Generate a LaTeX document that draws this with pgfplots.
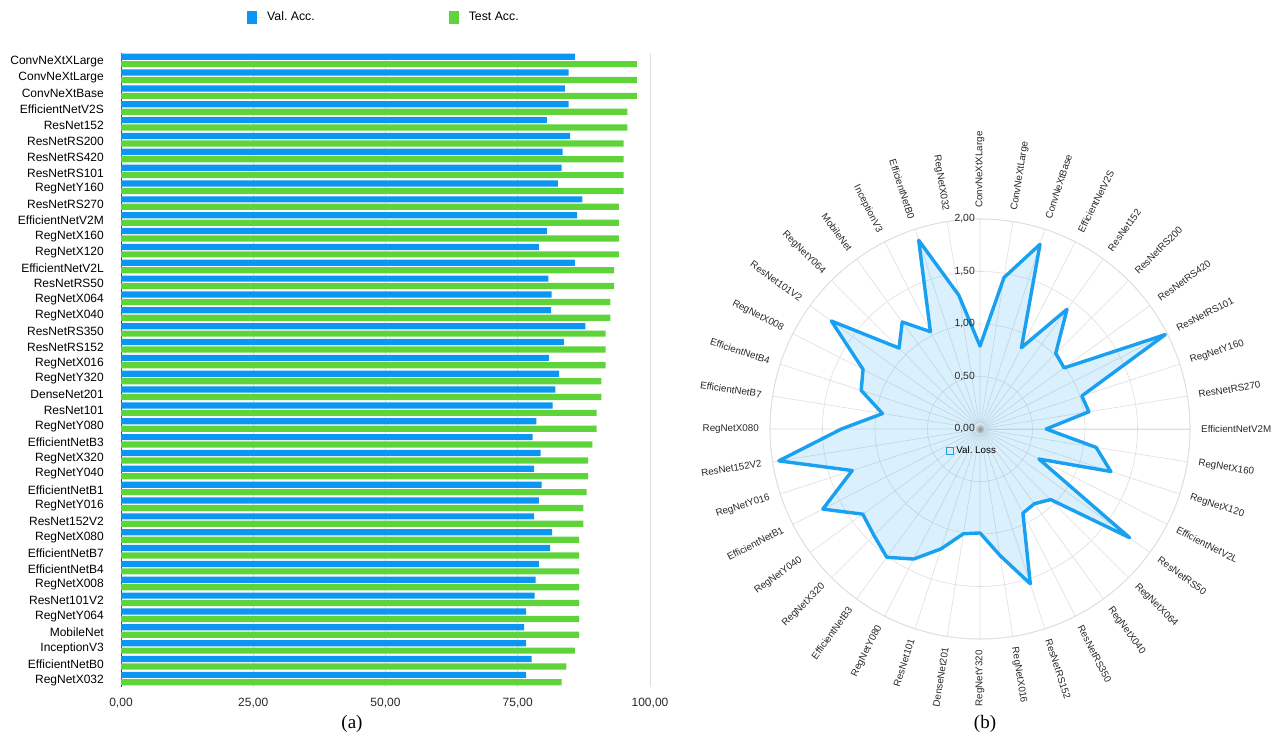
\documentclass[border=0pt]{standalone}
\usepackage{pgfplots}
\pgfplotsset{compat=1.18}
\usepgfplotslibrary{polar}
\usepackage{fontspec}
\setmainfont{Liberation Sans}
\newfontfamily\capfont{Liberation Serif}
\definecolor{barblue}{RGB}{10,150,242}
\definecolor{bargreen}{RGB}{94,212,58}
\definecolor{radarblue}{RGB}{26,160,240}
\definecolor{gridgray}{RGB}{222,222,222}
\definecolor{ticktext}{RGB}{40,40,40}
\begin{document}
\begin{tikzpicture}
\path[use as bounding box] (0,0) rectangle (1277pt,-743pt);
% ---------------- (a) bar chart ----------------
\begin{axis}[
  name=bars,
  at={(121pt,-686.5pt)}, anchor=south west,
  scale only axis, width=529pt, height=634pt,
  xbar, bar width=0.39,
  xmin=0, xmax=100,
  ymin=-0.5, ymax=39.5, y dir=reverse,
  ytick={0,...,39},
  yticklabels={ConvNeXtXLarge,ConvNeXtLarge,ConvNeXtBase,EfficientNetV2S,ResNet152,ResNetRS200,ResNetRS420,ResNetRS101,RegNetY160,ResNetRS270,EfficientNetV2M,RegNetX160,RegNetX120,EfficientNetV2L,ResNetRS50,RegNetX064,RegNetX040,ResNetRS350,ResNetRS152,RegNetX016,RegNetY320,DenseNet201,ResNet101,RegNetY080,EfficientNetB3,RegNetX320,RegNetY040,EfficientNetB1,RegNetY016,ResNet152V2,RegNetX080,EfficientNetB7,EfficientNetB4,RegNetX008,ResNet101V2,RegNetY064,MobileNet,InceptionV3,EfficientNetB0,RegNetX032},
  xtick={25,50,75,100},
  xticklabels={{25,00},{50,00},{75,00},{100,00}},
  extra x ticks={0}, extra x tick labels={0{,}00},
  extra x tick style={grid style={black!75, line width=0.9pt}},
  xmajorgrids, grid style={gridgray, line width=0.6pt},
  major tick length=0,
  axis line style={draw=none},
  yticklabel style={font=\fontsize{12}{14}\selectfont, inner sep=0pt, xshift=-17pt, yshift=-1.5pt, text=black},
  xticklabel style={font=\fontsize{12}{14}\selectfont, yshift=-8pt, text=ticktext},
  legend columns=2,
  legend style={at={(0.497,1.056)}, anchor=center, draw=none, fill=none,
    font=\fontsize{12.3}{14}\selectfont,
    /tikz/every even column/.append style={column sep=132pt}},
  legend image code/.code={\fill[#1, draw=none] (0pt,-6.5pt) rectangle (10pt,6.5pt); \path (0pt,0pt) -- (18pt,0pt);},
]
\addplot[fill=barblue, draw=none, bar shift=-0.235] coordinates {
(85.8,0) (84.6,1) (83.9,2) (84.6,3) (80.5,4) (84.9,5) (83.5,6) (83.3,7) (82.6,8) (87.2,9)
(86.2,10) (80.5,11) (79.0,12) (85.8,13) (80.8,14) (81.4,15) (81.3,16) (87.8,17) (83.7,18) (80.9,19)
(82.8,20) (82.1,21) (81.6,22) (78.5,23) (77.8,24) (79.3,25) (78.1,26) (79.5,27) (79.0,28) (78.1,29)
(81.5,30) (81.1,31) (79.0,32) (78.4,33) (78.2,34) (76.6,35) (76.2,36) (76.6,37) (77.6,38) (76.6,39)};
\addplot[fill=bargreen, draw=none, bar shift=0.235] coordinates {
(97.5,0) (97.5,1) (97.5,2) (95.7,3) (95.7,4) (95.0,5) (95.0,6) (95.0,7) (95.0,8) (94.1,9)
(94.1,10) (94.1,11) (94.1,12) (93.2,13) (93.2,14) (92.5,15) (92.5,16) (91.6,17) (91.6,18) (91.6,19)
(90.8,20) (90.8,21) (89.9,22) (89.9,23) (89.1,24) (88.3,25) (88.3,26) (88.0,27) (87.4,28) (87.4,29)
(86.6,30) (86.6,31) (86.6,32) (86.6,33) (86.6,34) (86.6,35) (86.6,36) (85.8,37) (84.2,38) (83.3,39)};
\legend{Val.\ Acc., Test Acc.}
\end{axis}
% ---------------- (b) radar chart ----------------
\begin{polaraxis}[
  name=radar,
  at={(980pt,-429pt)}, anchor=center,
  scale only axis, width=420pt, height=420pt,
  xtick={0,9,...,351}, xticklabels={},
  ymin=0, ymax=2, ytick={0.5,1,1.5,2}, yticklabels={},
  grid=major, major grid style={gridgray, line width=0.6pt},
  axis line style={gridgray, line width=0.8pt},
  major tick length=0,
  legend style={at={(0.481,0.448)}, anchor=center, draw=none, fill=none,
    font=\fontsize{9.8}{12}\selectfont},
  legend image code/.code={\draw[radarblue, line width=1.2pt, fill=radarblue!15] (0pt,-3.5pt) rectangle (7pt,3.5pt);},
]
\addplot[draw=radarblue, line width=3.4pt, line join=round, fill=radarblue, fill opacity=0.16] coordinates {
(90,0.79) (81,1.46) (72,1.85) (63,0.87) (54,1.41) (45,1.02) (36,0.99) (27,1.98) (18,1.02) (9,1.05)
(0,0.63) (-9,1.12) (-18,1.31) (-27,0.63) (-36,1.76) (-45,0.95) (-54,0.88) (-63,0.90) (-72,1.55) (-81,1.22)
(-90,0.99) (-99,1.01) (-108,1.20) (-117,1.39) (-126,1.51) (-135,1.43) (-144,1.38) (-153,1.68) (-162,1.28) (-171,1.94)
(-180,1.32) (-189,0.94) (-198,1.19) (-207,1.25) (-216,1.75) (-225,1.09) (-234,1.26) (-243,1.04) (-252,1.89) (-261,1.29)} -- cycle;
\addlegendentry{Val.\ Loss}
\coordinate (C) at (axis cs:0,0);
\end{polaraxis}
\shade[inner color=black!45, outer color=radarblue!16] (C) circle (6pt);
\foreach \v/\t in {0/{0,00},0.5/{0,50},1/{1,00},1.5/{1,50},2/{2,00}} {
  \node[anchor=east, inner sep=0pt, font=\fontsize{10.4}{12}\selectfont, text=ticktext]
    at ([shift={(C)}]{-5pt},{\v*105pt}) {\t};
}
\foreach \n [count=\i from 0] in {ConvNeXtXLarge,ConvNeXtLarge,ConvNeXtBase,EfficientNetV2S,ResNet152,ResNetRS200,ResNetRS420,ResNetRS101,RegNetY160,ResNetRS270,EfficientNetV2M,RegNetX160,RegNetX120,EfficientNetV2L,ResNetRS50,RegNetX064,RegNetX040,ResNetRS350,ResNetRS152,RegNetX016,RegNetY320,DenseNet201,ResNet101,RegNetY080,EfficientNetB3,RegNetX320,RegNetY040,EfficientNetB1,RegNetY016,ResNet152V2,RegNetX080,EfficientNetB7,EfficientNetB4,RegNetX008,ResNet101V2,RegNetY064,MobileNet,InceptionV3,EfficientNetB0,RegNetX032} {
  \pgfmathsetmacro\ang{90-9*\i}
  \ifnum\i<20
    \node[anchor=west, rotate=\ang, inner sep=0pt, font=\fontsize{9.8}{12}\selectfont, text=ticktext]
      at ([shift={(C)}]\ang:221pt) {\n};
  \else
    \pgfmathsetmacro\rot{\ang+180}
    \node[anchor=east, rotate=\rot, inner sep=0pt, font=\fontsize{9.8}{12}\selectfont, text=ticktext]
      at ([shift={(C)}]\ang:221pt) {\n};
  \fi
}
% captions
\node[font=\capfont\fontsize{19}{22}\selectfont] at (352pt,-724pt) {(a)};
\node[font=\capfont\fontsize{19}{22}\selectfont] at (985pt,-724pt) {(b)};
\end{tikzpicture}
\end{document}
